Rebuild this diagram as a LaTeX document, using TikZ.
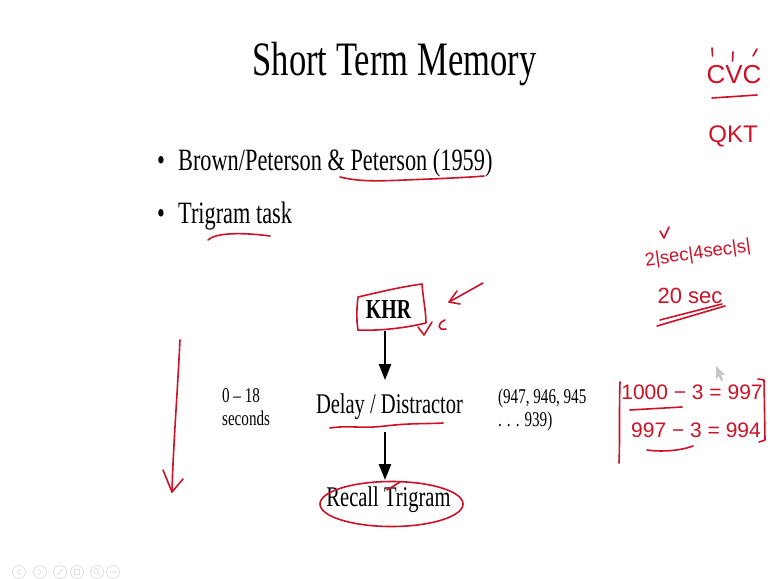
\documentclass[tikz,border=0pt]{standalone}
\usepackage{fontspec}
\setmainfont{Liberation Serif}
\newfontfamily\handfont{Liberation Sans}
\usetikzlibrary{arrows.meta}
\definecolor{ink}{RGB}{205,18,40}
\begin{document}
\begin{tikzpicture}[x=1pt,y=-1pt,
  sq/.style={xscale=0.72, inner sep=0pt},
  pen/.style={draw=ink, line width=1.6pt, line cap=round, line join=round},
  hand/.style={text=ink, inner sep=0pt},
  flow/.style={line width=2.4pt, -{Triangle[length=16pt,width=12pt]}},
  navbtn/.style={draw=gray!25, line width=0.8pt},
]
\useasboundingbox[fill=white] (0,0) rectangle (770,578);

% --- slide text ---
\node[sq, anchor=base, font=\fontsize{48}{48}\selectfont] (title) at (394.5,75) {Short Term Memory};
\node[sq, anchor=base, font=\fontsize{31}{31}\selectfont] (d1) at (161,170) {\textbullet};
\node[sq, anchor=base west, font=\fontsize{31}{31}\selectfont] (b1) at (178,170) {Brown/Peterson \& Peterson (1959)};
\node[sq, anchor=base, font=\fontsize{31}{31}\selectfont] (d2) at (161,223) {\textbullet};
\node[sq, anchor=base west, font=\fontsize{31}{31}\selectfont] (b2) at (178,223) {Trigram task};

\node[sq, anchor=base, font=\bfseries\fontsize{27.5}{27.5}\selectfont] (khr) at (388.5,318) {KHR};
\node[sq, anchor=base, font=\fontsize{28.5}{28.5}\selectfont] (delay) at (389.5,413) {Delay / Distractor};
\node[sq, anchor=base, font=\fontsize{28.5}{28.5}\selectfont] (recall) at (388.5,506) {Recall Trigram};

\node[sq, anchor=base west, font=\fontsize{21}{21}\selectfont] (s1) at (222,402.7) {0 – 18};
\node[sq, anchor=base west, font=\fontsize{21}{21}\selectfont] (s2) at (222,425) {seconds};
\node[sq, anchor=base west, font=\fontsize{21}{21}\selectfont] (n1) at (498,403) {(947, 946, 945};
\node[sq, anchor=base west, font=\fontsize{21}{21}\selectfont] (n2) at (498,426.5) {. . . 939)};

% --- connectors ---
\draw[flow, shorten <=13pt, shorten >=13pt] ([xshift=-3.5pt]khr.south) -- ([xshift=-4.5pt]delay.north);
\draw[flow, shorten <=12.5pt, shorten >=6pt] ([xshift=-4.5pt]delay.south) -- ([xshift=-3.5pt]recall.north);

% --- red annotations on the slide ---
\draw[pen] (340,177) .. controls (360,182) and (380,181) .. (405,180) .. controls (430,179) and (460,178) .. (484,176);
\draw[pen] (208,240) .. controls (215,233) and (240,232) .. (270,236);
\draw[pen] (358,297) .. controls (380,292) and (400,287) .. (422,284) .. controls (423,298) and (426,312) .. (426,323) .. controls (405,328) and (380,331) .. (358,330) .. controls (356,318) and (357,306) .. (358,297);
\draw[pen] (483,283) -- (449,302);
\draw[pen] (457,291) -- (449,302) -- (460,304);
\draw[pen] (418,327) -- (424,335) -- (432,322);
\draw[pen] (445,320) .. controls (437,323) and (437,331) .. (446,329);
\draw[pen] (330,428) .. controls (350,425) and (360,429) .. (385,426) .. controls (410,423) and (425,424) .. (443,423);
\draw[pen] (391.5,504) ellipse [x radius=71.5, y radius=22.5];
\draw[pen] (387,490) -- (400,482);
\draw[pen] (180,340) .. controls (177,400) and (173,450) .. (172,492);
\draw[pen] (163,470) -- (172,492) -- (183,479);

% --- red notes on the right ---
\node[hand, font=\handfont\fontsize{26}{26}\selectfont] (cvc) at (734,75) {CVC};
\draw[pen] (712,48) -- (712.5,56);
\draw[pen] (733,52) -- (732.5,61);
\draw[pen] (757,49) -- (753,56);
\draw[pen] (712,98) -- (757,95);
\node[hand, font=\handfont\fontsize{24}{24}\selectfont] (qkt) at (733,136) {QKT};
\node[hand, rotate=8, font=\handfont\fontsize{18.5}{18.5}\selectfont] (secs) at (698,254) {2|sec|4sec|s|};
\draw[pen] (660,231) -- (664,238) -- (669,227);
\node[hand, font=\handfont\fontsize{22}{22}\selectfont] (twenty) at (690,296) {20 sec};
\draw[pen] (660,320) -- (722,304);
\draw[pen] (657,326) -- (725,306);

\draw[pen] (620,382) .. controls (619,410) and (620,440) .. (619,463);
\node[hand, font=\handfont\fontsize{21}{21}\selectfont] (eq1) at (692,392) {1000 − 3 = 997};
\node[hand, font=\handfont\fontsize{21}{21}\selectfont] (eq2) at (696,430) {997 − 3 = 994};
\draw[pen] (758,379) -- (764,380) -- (765,440) -- (759,442);
\draw[pen] (630,410) -- (682,407);
\draw[pen] (647,450) .. controls (660,452) and (680,451) .. (693,446);

% --- mouse pointer ---
\fill[gray!45] (716,366) -- (716,379) -- (719,376) -- (721,381) -- (723,380) -- (721,375) -- (725,375) -- cycle;

% --- navigation buttons ---
\foreach \cx in {19,40,60,77,97,113} \draw[navbtn] (\cx,572) circle [radius=6.5];
\draw[navbtn] (21,569) -- (17,572) -- (21,575);
\draw[navbtn] (38,569) -- (42,572) -- (38,575);
\draw[navbtn] (57,575) -- (63,569);
\draw[navbtn] (74.5,569.5) rectangle (79.5,574.5);
\draw[navbtn] (96,571) circle [radius=2.5] (98,573) -- (100,575);
\foreach \dx in {-2.5,0,2.5} \fill[gray!30] (113+\dx,572) circle [radius=0.8];
\end{tikzpicture}
\end{document}
